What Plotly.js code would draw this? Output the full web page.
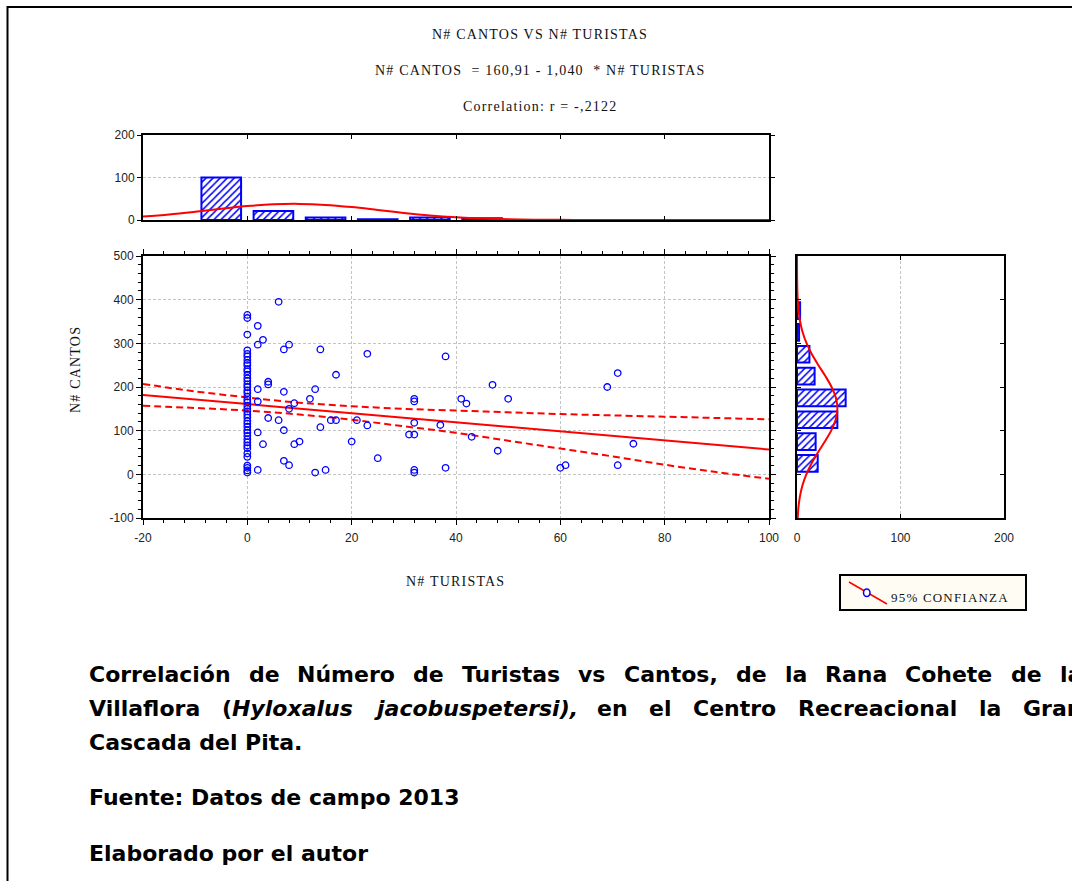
<!DOCTYPE html>
<html>
<head>
<meta charset="utf-8">
<script src="https://cdn.plot.ly/plotly-3.0.1.min.js"></script>
<style>
  body { margin: 0; background: #ffffff; }
  #chart { width: 1072px; height: 881px; }
  text[style*="Liberation Serif"] { letter-spacing: 1.2px; }
</style>
</head>
<body>
<div id="chart"></div>
<script>
// ---------------- DATA ----------------
const titleLines = [
  'N# CANTOS VS N# TURISTAS',
  'N# CANTOS  = 160,91 - 1,040  * N# TURISTAS',
  'Correlation: r = -,2122'
];
const xAxisTitle = 'N# TURISTAS';
const yAxisTitle = 'N# CANTOS';
const legendLabel = '95% CONFIANZA';

// scatter points: N# TURISTAS (x) and N# CANTOS (y)
const turistas = [
  0,0,0,0,0,0,0,0,0,0,0,0,0,0,0,0,0,0,0,0,0,0,0,0,0,0,0,0,0,0,0,0,0,0,0,0,0,0,0,0,0,0,
  6,2,3,2,7,8,14,23,4,4,2,7,17,13,12,2,9,8,4,6,16,17,21,23,14,7,2,3,9,10,20,7,8,2,13,15,25,
  31,32,32,32,32,32,32,37,38,38,41,42,43,47,48,50,60,61,69,71,71,74
];
const cantos = [
  365,358,320,284,276,270,262,255,250,241,236,228,220,214,206,200,192,186,178,171,165,157,150,144,137,130,122,116,109,101,95,88,80,73,66,60,48,40,20,15,9,4,
  395,340,308,297,286,297,286,276,212,206,195,189,228,195,173,167,163,150,129,124,124,124,124,112,108,101,96,69,69,75,75,31,21,10,4,10,37,
  91,91,118,173,167,10,4,113,270,15,173,162,86,205,54,173,15,21,200,232,21,70
];

// fitted regression line (end points) and 95% confidence band
const regX = [-20, 100];
const regY = [181.7, 56.9];
const bandX = [-20, -10, 0, 10, 20, 30, 40, 50, 60, 70, 80, 90, 100];
const bandUpper = [207, 190, 176, 164, 156, 150, 146, 142, 138, 135, 132, 129, 126];
const bandLower = [157, 152, 146, 137, 125, 110, 95, 77, 59, 41, 22, 5, -10];

// top histogram (N# TURISTAS)
const topBinCenters = [-5, 5, 15, 25, 35, 45];
const topBinCounts = [100, 21, 6, 2, 6, 4];
const topCurveX = [-20, -15, -10, -5, 0, 5, 10, 15, 20, 25, 30, 35, 40, 45, 50, 55, 60, 65, 70, 80, 90, 100];
const topCurveY = [8.0, 13.0, 19.4, 26.4, 32.7, 36.9, 37.9, 35.5, 30.3, 23.6, 16.7, 10.8, 6.4, 3.4, 1.7, 0.7, 0.3, 0.1, 0, 0, 0, 0];

// right histogram (N# CANTOS)
const rightBinCenters = [25, 75, 125, 175, 225, 275, 325, 375];
const rightBinCounts = [20, 18, 39, 47, 17, 12, 2, 3];
const rightCurveY = [-100, -75, -50, -25, 0, 25, 50, 75, 100, 125, 150, 175, 200, 225, 250, 275, 300, 325, 350, 375, 400, 425, 450, 475, 500];
const rightCurveCount = [0.7, 1.4, 2.9, 5.3, 9.0, 14.0, 20.2, 26.9, 33.0, 37.3, 39.0, 37.6, 33.4, 27.4, 20.7, 14.4, 9.3, 5.5, 3.0, 1.5, 0.7, 0.3, 0.1, 0.05, 0];

// tick labels
const xTickVals = [-20, 0, 20, 40, 60, 80, 100];
const xTickText = ['-20', '0', '20', '40', '60', '80', '100'];
const yTickVals = [-100, 0, 100, 200, 300, 400, 500];
const yTickText = ['-100', '0', '100', '200', '300', '400', '500'];
const topYTickVals = [0, 100, 200];
const topYTickText = ['0', '100', '200'];
const rightXTickVals = [0, 100, 200];
const rightXTickText = ['0', '100', '200'];

// caption
const captionLine1 = 'Correlación de Número de Turistas vs Cantos, de la Rana Cohete de la';
const captionLine2 = ['Villaflora', '(<i>Hyloxalus</i>', '<i>jacobuspetersi),</i>', 'en', 'el', 'Centro', 'Recreacional', 'la', 'Gran'];
const captionLine3 = 'Cascada del Pita.';
const captionSource = 'Fuente: Datos de campo 2013';
const captionAuthor = 'Elaborado por el autor';

// ---------------- LAYOUT HELPERS ----------------
const W = 1072, H = 881;
const px = x => x / W;
const py = y => 1 - y / H;

const BLUE = '#0000ff';
const RED = '#ff0000';
const GRID = '#c4c4c4';
const tickFont = { family: 'Liberation Sans, Arial, sans-serif', size: 12, color: '#222222' };
const serifFont = { family: 'Liberation Serif', size: 14, color: '#111111' };

const hatch = { shape: '/', fgcolor: BLUE, bgcolor: '#ffffff', size: 5, solidity: 0.3 };

// ---------------- TRACES ----------------
const traces = [
  // top histogram
  {
    type: 'bar', x: topBinCenters, y: topBinCounts, width: 7.6,
    xaxis: 'x2', yaxis: 'y2',
    marker: { color: '#ffffff', line: { color: BLUE, width: 2 }, pattern: hatch },
    hoverinfo: 'skip'
  },
  {
    type: 'scatter', mode: 'lines', x: topCurveX, y: topCurveY,
    xaxis: 'x2', yaxis: 'y2', line: { color: RED, width: 2, shape: 'spline' }, hoverinfo: 'skip'
  },
  // right histogram
  {
    type: 'bar', orientation: 'h', y: rightBinCenters, x: rightBinCounts, width: 38,
    xaxis: 'x3', yaxis: 'y3',
    marker: { color: '#ffffff', line: { color: BLUE, width: 2 }, pattern: hatch },
    hoverinfo: 'skip'
  },
  {
    type: 'scatter', mode: 'lines', x: rightCurveCount, y: rightCurveY,
    xaxis: 'x3', yaxis: 'y3', line: { color: RED, width: 2, shape: 'spline' }, hoverinfo: 'skip'
  },
  // confidence band
  {
    type: 'scatter', mode: 'lines', x: bandX, y: bandUpper,
    line: { color: RED, width: 2, dash: '7px,4px', shape: 'spline' }, hoverinfo: 'skip'
  },
  {
    type: 'scatter', mode: 'lines', x: bandX, y: bandLower,
    line: { color: RED, width: 2, dash: '7px,4px', shape: 'spline' }, hoverinfo: 'skip'
  },
  // regression line
  {
    type: 'scatter', mode: 'lines', x: regX, y: regY,
    line: { color: RED, width: 2 }, hoverinfo: 'skip'
  },
  // points
  {
    type: 'scatter', mode: 'markers', x: turistas, y: cantos,
    marker: { symbol: 'circle-open', size: 6.5, color: BLUE, line: { color: BLUE, width: 1.3 } },
    hoverinfo: 'skip'
  }
];

// ---------------- AXES ----------------
const frameAxis = {
  showline: true, linecolor: '#000000', linewidth: 2, mirror: 'allticks',
  zeroline: false, tickcolor: '#000000', tickfont: tickFont, fixedrange: true
};

const scatterX = [px(143), px(769)];
const scatterY = [py(518), py(256)];

const layout = {
  width: W, height: H,
  margin: { l: 0, r: 0, t: 0, b: 0 },
  paper_bgcolor: '#ffffff', plot_bgcolor: '#ffffff',
  showlegend: false,
  bargap: 0,
  xaxis: Object.assign({}, frameAxis, {
    domain: scatterX, anchor: 'y', range: [-20, 100],
    tickmode: 'array', tickvals: xTickVals, ticktext: xTickText,
    ticks: 'outside', ticklen: 5, tickwidth: 1, ticklabelstandoff: 3,
    showgrid: true, gridcolor: GRID, gridwidth: 1, griddash: '3px,2px',
    minor: { dtick: 4, tick0: 0, ticks: 'outside', ticklen: 3, tickcolor: '#000000', showgrid: false }
  }),
  yaxis: Object.assign({}, frameAxis, {
    domain: scatterY, anchor: 'x', range: [-100, 500],
    tickmode: 'array', tickvals: yTickVals, ticktext: yTickText,
    ticks: 'outside', ticklen: 5, tickwidth: 1,
    showgrid: true, gridcolor: GRID, gridwidth: 1, griddash: '3px,2px',
    minor: { dtick: 20, tick0: 0, ticks: 'outside', ticklen: 3, tickcolor: '#000000', showgrid: false }
  }),
  xaxis2: Object.assign({}, frameAxis, {
    domain: scatterX, anchor: 'y2', range: [-20, 100],
    tickmode: 'linear', tick0: 0, dtick: 20, showticklabels: false,
    ticks: 'inside', ticklen: 4, showgrid: false
  }),
  yaxis2: Object.assign({}, frameAxis, {
    domain: [py(220), py(135)], anchor: 'x2', range: [0, 200],
    tickmode: 'array', tickvals: topYTickVals, ticktext: topYTickText,
    ticks: 'outside', ticklen: 4,
    showgrid: true, gridcolor: GRID, gridwidth: 1, griddash: '3px,2px'
  }),
  xaxis3: Object.assign({}, frameAxis, {
    domain: [px(797), px(1004)], anchor: 'y3', range: [0, 200],
    tickmode: 'array', tickvals: rightXTickVals, ticktext: rightXTickText,
    ticks: 'inside', ticklen: 4, ticklabelstandoff: 8,
    showgrid: true, gridcolor: GRID, gridwidth: 1, griddash: '3px,2px'
  }),
  yaxis3: Object.assign({}, frameAxis, {
    domain: scatterY, anchor: 'x3', range: [-100, 500],
    tickmode: 'linear', tick0: 0, dtick: 100, showticklabels: false,
    ticks: 'inside', ticklen: 4, showgrid: false
  }),
  shapes: [
    // outer frame
    { type: 'rect', xref: 'paper', yref: 'paper', x0: px(7.5), x1: 1.05, y0: -0.05, y1: py(7),
      line: { color: '#000000', width: 2 }, fillcolor: 'rgba(0,0,0,0)', layer: 'above' },
    // legend box
    { type: 'rect', xref: 'paper', yref: 'paper', x0: px(840), x1: px(1026), y0: py(610), y1: py(575),
      line: { color: '#000000', width: 2 }, fillcolor: '#fffdf3', layer: 'above' },
    // legend symbol
    { type: 'line', xref: 'paper', yref: 'paper', x0: px(849), y0: py(582), x1: px(887), y1: py(604),
      line: { color: RED, width: 1.5 }, layer: 'above' },
    { type: 'circle', xref: 'paper', yref: 'paper', x0: px(863.5), x1: px(870), y0: py(596.5), y1: py(589),
      line: { color: BLUE, width: 1.5 }, fillcolor: '#fffdf3', layer: 'above' }
  ],
  annotations: []
};

function ann(text, x, y, opts) {
  return Object.assign({
    text: text, xref: 'paper', yref: 'paper', x: px(x), y: py(y),
    xanchor: 'center', yanchor: 'middle', showarrow: false,
    borderpad: 0, borderwidth: 0, font: serifFont
  }, opts || {});
}

layout.annotations.push(ann(titleLines[0], 540, 35));
layout.annotations.push(ann(titleLines[1], 540, 71));
layout.annotations.push(ann(titleLines[2], 540, 106));
layout.annotations.push(ann(xAxisTitle, 455, 581));
layout.annotations.push(ann(yAxisTitle, 75, 370, { textangle: -90 }));
layout.annotations.push(ann(legendLabel, 891, 597, { xanchor: 'left', font: { family: 'Liberation Serif', size: 13, color: '#111111' } }));

// caption, justified like the source document
const capSize = 22;
const capFont = { family: 'DejaVu Sans', size: capSize, color: '#000000', weight: 'bold' };
const ctx = document.createElement('canvas').getContext('2d');
function measure(html) {
  let total = 0;
  const re = /<i>(.*?)<\/i>|([^<]+)/g;
  let m;
  while ((m = re.exec(html))) {
    if (m[1] !== undefined) { ctx.font = 'italic bold ' + capSize + 'px "DejaVu Sans"'; total += ctx.measureText(m[1]).width; }
    else { ctx.font = 'bold ' + capSize + 'px "DejaVu Sans"'; total += ctx.measureText(m[2]).width; }
  }
  return total;
}
const capLeft = 89, capRight = 1082;
function justified(words, y) {
  const widths = words.map(measure);
  const sum = widths.reduce((a, b) => a + b, 0);
  const gap = (capRight - capLeft - sum) / (words.length - 1);
  let x = capLeft;
  words.forEach((wd, i) => {
    layout.annotations.push(ann(wd, x, y, { xanchor: 'left', font: capFont }));
    x += widths[i] + gap;
  });
}
justified(captionLine1.split(' '), 674);
justified(captionLine2, 708);
layout.annotations.push(ann(captionLine3, capLeft, 742, { xanchor: 'left', font: capFont }));
layout.annotations.push(ann(captionSource, capLeft, 797, { xanchor: 'left', font: capFont }));
layout.annotations.push(ann(captionAuthor, capLeft, 853, { xanchor: 'left', font: capFont }));

Plotly.newPlot('chart', traces, layout, { staticPlot: true, displayModeBar: false });
</script>
</body>
</html>
